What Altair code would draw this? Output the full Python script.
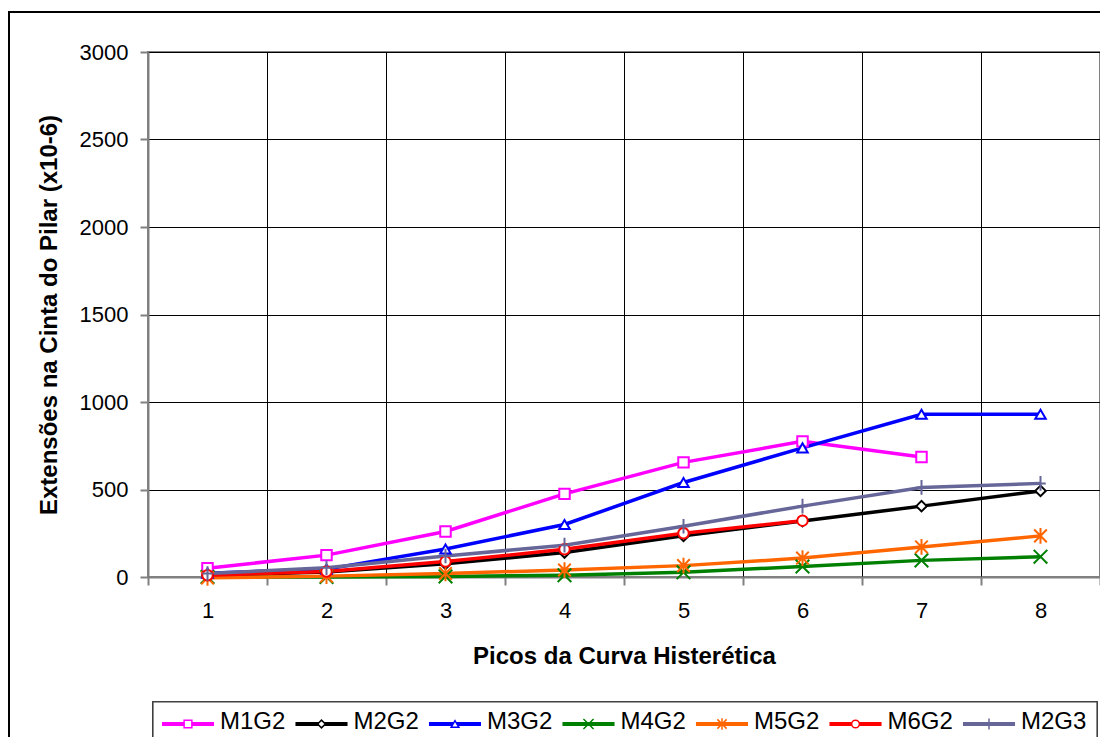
import altair as alt
import pandas as pd

series = ["M1G2", "M2G2", "M3G2", "M4G2", "M5G2", "M6G2", "M2G3"]
colors = ["#FF00FF", "#000000", "#0000FF", "#008000", "#FF6600", "#FF0000", "#666699"]
shapes = [
    "square",
    "diamond",
    "triangle-up",
    "M-1.3,-1.3L1.3,1.3M-1.3,1.3L1.3,-1.3",
    "M-1.2,-1.2L1.2,1.2M-1.2,1.2L1.2,-1.2M0,-1.5L0,1.5",
    "circle",
    "M0,-1.4L0,1.4M-1,0L1,0",
]
picos = [1, 2, 3, 4, 5, 6, 7, 8]

m1g2 = [50, 125, 260, 475, 655, 775, 686]
m2g2 = [10, 28, 75, 140, 235, 320, 405, 492]
m3g2 = [22, 45, 160, 300, 540, 738, 930, 930]
m4g2 = [0, 0, 3, 10, 27, 60, 95, 116]
m5g2 = [-5, 5, 20, 40, 65, 108, 172, 235]
m6g2 = [10, 31, 88, 158, 250, 322]
m2g3 = [20, 53, 120, 182, 290, 405, 512, 535]

values = [m1g2, m2g2, m3g2, m4g2, m5g2, m6g2, m2g3]

rows = []
for s, vals in zip(series, values):
    for p, v in zip(picos, vals):
        rows.append({"series": s, "pico": p, "val": v})
df = pd.DataFrame(rows)

leg = pd.DataFrame({"series": series, "li": list(range(len(series)))})

FONT = "Liberation Sans"
W, H = 952, 525

color_scale = alt.Scale(domain=series, range=colors)
shape_scale = alt.Scale(domain=series, range=shapes)

x_enc = alt.X(
    "pico:O",
    bandPosition=0.5,
    scale=alt.Scale(type="band", paddingInner=0, paddingOuter=0),
    axis=alt.Axis(
        title="Picos da Curva Histerética",
        tickBand="extent",
        labelAngle=0,
        grid=True,
        gridColor="#000000",
        gridWidth=1,
        tickSize=8,
        tickColor="#808080",
        tickWidth=2,
        domainColor="#808080",
        domainWidth=2,
        labelFont=FONT,
        labelFontSize=22,
        labelColor="#000000",
        labelPadding=15,
        titleFont=FONT,
        titleFontSize=24,
        titleFontWeight="bold",
        titleColor="#000000",
        titlePadding=23,
    ),
)
y_enc = alt.Y(
    "val:Q",
    scale=alt.Scale(domain=[0, 3000], nice=False, zero=False),
    axis=alt.Axis(
        title="Extensões na Cinta do Pilar (x10-6)",
        values=[0, 500, 1000, 1500, 2000, 2500, 3000],
        format="d",
        grid=True,
        gridColor="#000000",
        gridWidth=1,
        tickSize=8,
        tickColor="#808080",
        tickWidth=2,
        domainColor="#808080",
        domainWidth=2,
        labelFont=FONT,
        labelFontSize=22,
        labelColor="#000000",
        labelPadding=12,
        titleFont=FONT,
        titleFontSize=24,
        titleFontWeight="bold",
        titleColor="#000000",
        titlePadding=18,
    ),
)

lines = alt.Chart(df).mark_line(strokeWidth=3.5, clip=False).encode(
    x=x_enc,
    y=y_enc,
    color=alt.Color("series:N", scale=color_scale, legend=None),
    order=alt.Order("pico:Q"),
)
points = alt.Chart(df).mark_point(filled=True, fill="white", strokeWidth=2, size=110, opacity=1, clip=False).encode(
    x=x_enc,
    y=y_enc,
    stroke=alt.Stroke("series:N", scale=color_scale, legend=None),
    shape=alt.Shape("series:N", scale=shape_scale, legend=None),
)
main = alt.layer(lines, points)

frame = alt.Chart(leg).mark_rect(fill=None, stroke="#000000", strokeWidth=1.5).encode(
    x=alt.value(-139), x2=alt.value(970), y=alt.value(-40), y2=alt.value(720)
)
legbox = alt.Chart(leg).mark_rect(fill="white", stroke="#404040", strokeWidth=1.2).encode(
    x=alt.value(5), x2=alt.value(949), y=alt.value(650), y2=alt.value(730)
)

lx = alt.Scale(domain=[0, 6], range=[40, 841])
leg_rules = alt.Chart(leg).transform_calculate(
    x0="datum.li - 0.195", x1="datum.li + 0.195"
).mark_rule(strokeWidth=4).encode(
    x=alt.X("x0:Q", scale=lx, axis=None),
    x2="x1:Q",
    y=alt.value(672),
    color=alt.Color("series:N", scale=color_scale, legend=None),
)
leg_pts = alt.Chart(leg).mark_point(filled=True, fill="white", strokeWidth=1.5, size=60, opacity=1).encode(
    x=alt.X("li:Q", scale=lx, axis=None),
    y=alt.value(672),
    stroke=alt.Stroke("series:N", scale=color_scale, legend=None),
    shape=alt.Shape("series:N", scale=shape_scale, legend=None),
)
leg_txt = alt.Chart(leg).mark_text(
    align="left", baseline="alphabetic", dx=32, font=FONT, fontSize=24, color="#000000"
).encode(
    x=alt.X("li:Q", scale=lx, axis=None),
    y=alt.value(677),
    text="series:N",
)
legend_layer = alt.layer(leg_rules, leg_pts, leg_txt)

chart = alt.layer(frame, legbox, main, legend_layer).resolve_scale(x="independent").properties(
    width=W,
    height=H,
    autosize=alt.AutoSizeParams(type="none"),
    padding={"left": 140, "top": 44, "right": 0, "bottom": 160},
    background="white",
).configure_view(stroke="#808080", strokeWidth=2)

chart.save("out.html", embed_options={"renderer": "svg", "actions": False})
